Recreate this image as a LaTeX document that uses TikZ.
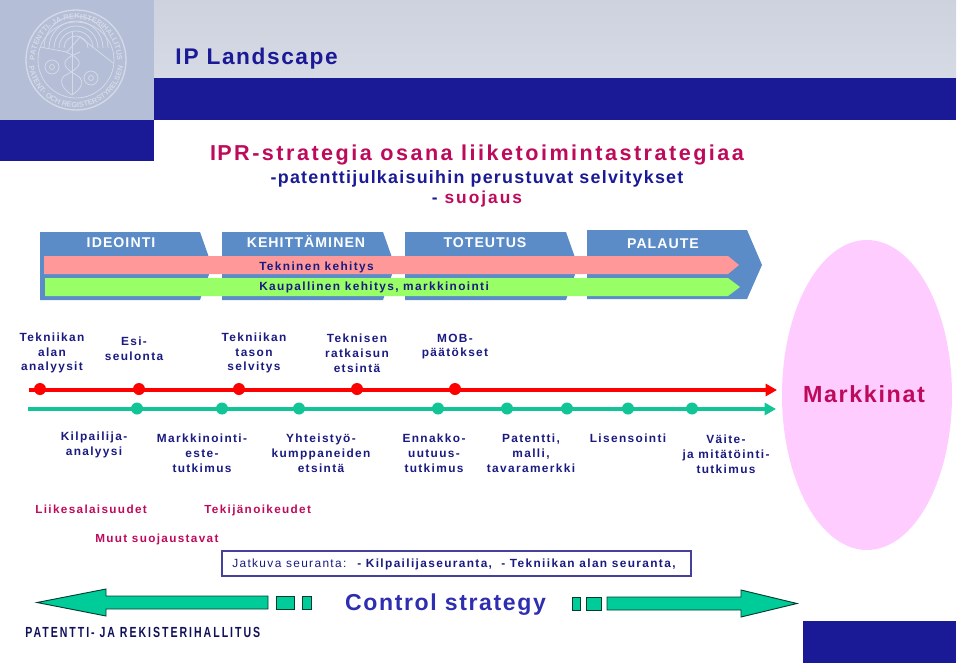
\documentclass[tikz,border=0pt]{standalone}
\usepackage{fontspec}
\usetikzlibrary{arrows.meta,decorations.text}
\setmainfont{Liberation Sans}
\newfontfamily\spaced[LetterSpace=7]{Liberation Sans}
\newfontfamily\spacedw[LetterSpace=11.5]{Liberation Sans}
\newfontfamily\narrowb[LetterSpace=13.5,FakeStretch=0.72]{Liberation Sans Bold}
\definecolor{navy}{HTML}{1A1A96}
\definecolor{labelc}{HTML}{1A1A80}
\definecolor{crim}{HTML}{BE0A5A}
\definecolor{tab}{HTML}{5B8CC8}
\definecolor{pinkbar}{HTML}{FF9999}
\definecolor{greenbar}{HTML}{99FF66}
\definecolor{tline}{HTML}{12C596}
\definecolor{tfill}{HTML}{00CC99}
\definecolor{sealc}{HTML}{D5DAE8}
\definecolor{mk}{HTML}{FFCCFF}
\definecolor{headtop}{HTML}{CDD2DE}
\definecolor{headmid}{HTML}{C9CFDB}
\definecolor{headbot}{HTML}{D6DAE5}
\definecolor{sealbg}{HTML}{B4BED6}
\definecolor{csblue}{HTML}{2E2EB0}
\definecolor{boxc}{HTML}{45409A}
\tikzset{x=0.75pt,y=-0.75pt,
  tabshape/.style={fill=tab,draw=none},
  tablabel/.style={text=white,inner sep=0,anchor=base,font=\fontsize{10.6}{12}\spaced\bfseries},
  barlabel/.style={text=labelc,inner sep=0,anchor=base west,font=\fontsize{8.9}{11}\spacedw\bfseries},
  lab/.style={text=labelc,inner sep=0,align=center,font=\fontsize{8.9}{11.1}\spacedw\bfseries},
  crimlab/.style={text=crim,inner sep=0,anchor=base west,font=\fontsize{8.8}{11}\spacedw\bfseries},
  reddot/.style={circle,fill=red,inner sep=0,minimum size=9pt},
  greendot/.style={circle,fill=tline,inner sep=0,minimum size=9pt},
  redline/.style={draw=red,line width=2.6pt,-{Triangle[length=8.5pt,width=9pt]}},
  greenline/.style={draw=tline,line width=2.6pt,-{Triangle[length=8.5pt,width=9pt]}},
  blockarrow/.style={fill=tfill,draw=black!70!tfill,line width=0.7pt},
  seal/.style={draw=sealc,line width=0.6pt}
}
\begin{document}
\begin{tikzpicture}
\useasboundingbox (0,0) rectangle (960,664);
% header
\shade[top color=headtop,middle color=headmid,bottom color=headbot] (154,0) rectangle (956,78);
\fill[sealbg] (0,0) rectangle (154,120);
\fill[navy] (154,78) rectangle (956,120);
\fill[navy] (0,120) rectangle (154,161);
\fill[navy] (803,621) rectangle (956,663);
% seal
\draw[seal,line width=1pt] (76,60) circle (50);
\draw[seal] (76,60) circle (38);
\path[postaction={decorate,decoration={text along path,text align=center,
  text={|\fontsize{5.6}{6}\bfseries\color{sealc}|PATENTTI- JA REKISTERIHALLITUS}}}]
  (76,60) ++(170:41) arc[start angle=170,end angle=370,radius=41];
\path[postaction={decorate,decoration={text along path,text align=center,
  text={|\fontsize{5.6}{6}\bfseries\color{sealc}|PATENT- OCH REGISTERSTYRELSEN}}}]
  (76,60) ++(170:47.5) arc[start angle=170,end angle=10,radius=47.5];
\foreach \r in {12,17,22,27,32}{\draw[seal] (76-\r,48) arc[start angle=180,end angle=360,radius=\r];}
\draw[seal] (40,47) -- (67,52) -- (80,37) -- (113,63);
\draw[seal] (72,32) -- (72,95);
\draw[seal] (66,52) .. controls (84,60) and (84,66) .. (64,76) .. controls (58,82) and (64,90) .. (72,95);
\draw[seal] (80,52) .. controls (60,60) and (60,66) .. (78,76) .. controls (86,82) and (80,90) .. (72,95);
\foreach \p in {(52,67),(91,78)}{\draw[seal] \p circle (7); \draw[seal] \p circle (2.5);}
% titles
\node[anchor=west,inner sep=0,text=navy,font=\fontsize{17}{18}\spaced\bfseries] (t1) at (175,59) {I\kern1.5pt P Landscape};
\node[inner sep=0,text=crim,font=\fontsize{16.2}{18}\spacedw\bfseries] (t2) at (477,155) {I\kern1pt PR-strategia osana liiketoimintastrategiaa};
\node[inner sep=0,text=navy,font=\fontsize{13.4}{15}\spaced\bfseries] (t3) at (477,179) {-patenttijulkaisuihin perustuvat selvitykset};
\node[inner sep=0,font=\fontsize{13}{15}\spacedw\bfseries] (t4) at (477,199) {\textcolor{navy}{- }\textcolor{crim}{suojaus}};
% phase tabs
\fill[tabshape] (40,232) -- (200,232) -- (212,266) -- (200,300) -- (40,300) -- cycle;
\fill[tabshape] (222,232) -- (383,232) -- (395,266) -- (383,300) -- (222,300) -- cycle;
\fill[tabshape] (405,232) -- (566,232) -- (578,266) -- (566,300) -- (405,300) -- cycle;
\fill[tabshape] (587,230) -- (747,230) -- (762,265) -- (747,299) -- (587,299) -- cycle;
\node[tablabel] (p1) at (121,247) {I\kern1pt DEOI\kern1pt NTI};
\node[tablabel] (p2) at (306,247) {KEHI\kern1pt TTÄMI\kern1pt NEN};
\node[tablabel] (p3) at (485,247) {TOTEUTUS};
\node[tablabel] (p4) at (663,248) {PALAUTE};
% bars
\fill[pinkbar] (44,256) -- (728,256) -- (739,265) -- (728,274) -- (44,274) -- cycle;
\fill[greenbar] (45,278) -- (728,278) -- (740,287) -- (728,296) -- (45,296) -- cycle;
\node[barlabel] (b1) at (259,270) {Tekninen kehitys};
\node[barlabel] (b2) at (259,290) {Kaupallinen kehitys, markkinointi};
% market ellipse
\fill[mk] (867,395) ellipse (85 and 155);
\node[inner sep=0,text=crim,font=\fontsize{17.5}{20}\spaced\bfseries] (mkt) at (864,394) {Markkinat};
% upper labels
\node[lab] (u1) at (52,353) {Tekniikan\\alan\\analyysit};
\node[lab] (u2) at (134,349) {Esi-\\seulonta};
\node[lab] (u3) at (254,353) {Tekniikan\\tason\\selvitys};
\node[lab] (u4) at (357,353) {Teknisen\\ratkaisun\\etsintä};
\node[lab] (u5) at (455,346.5) {MOB-\\päätökset};
% timelines
\coordinate (r0) at (29,390);
\coordinate (r1) at (777,390);
\coordinate (g0) at (28,409);
\coordinate (g1) at (776,409);
\draw[redline] (r0) -- (r1);
\draw[greenline] (g0) -- (g1);
\foreach \n/\x in {a/40,b/139,c/239,d/357,e/455}{\node[reddot] (rd\n) at (\x,389) {};}
\foreach \n/\x in {a/137,b/222,c/299,d/438,e/507,f/567,g/628,h/692}{\node[greendot] (gd\n) at (\x,408.5) {};}
% lower labels
\node[lab] (l1) at (94,445) {Kilpailija-\\analyysi};
\node[lab] (l2) at (202,453) {Markkinointi-\\este-\\tutkimus};
\node[lab] (l3) at (321,453) {Yhteistyö-\\kumppaneiden\\etsintä};
\node[lab] (l4) at (434,453) {Ennakko-\\uutuus-\\tutkimus};
\node[lab] (l5) at (531,453) {Patentti,\\malli,\\tavaramerkki};
\node[lab] (l6) at (628,438.5) {Lisensointi};
\node[lab] (l7) at (726,454.5) {Väite-\\ja mitätöinti-\\tutkimus};
\node[crimlab] (s1) at (35,513) {Liikesalaisuudet};
\node[crimlab] (s2) at (204,513) {Tekijänoikeudet};
\node[crimlab] (s3) at (95,542.5) {Muut suojaustavat};
% follow-up box
\draw[draw=boxc,line width=0.9pt] (222,551) rectangle (691,576);
\node[lab,anchor=base west,font=\fontsize{8.9}{11}\spacedw] (j) at (232,567) {Jatkuva seuranta: \ \textbf{- Kilpailijaseuranta, \ - Tekniikan alan seuranta,}};
% control strategy
\node[inner sep=0,text=csblue,font=\fontsize{17.3}{20}\spaced\bfseries] (cs) at (445.5,605) {Control strategy};
\draw[blockarrow] (268,596) -- (106,596) -- (106,589) -- (37,602.5) -- (106,616) -- (106,609) -- (268,609) -- cycle;
\draw[blockarrow] (276,596) rectangle (294,609);
\draw[blockarrow] (302,596) rectangle (311,609);
\draw[blockarrow] (607,597) -- (741,597) -- (741,590) -- (797,603.5) -- (741,617) -- (741,610) -- (607,610) -- cycle;
\draw[blockarrow] (586,597) rectangle (601,610);
\draw[blockarrow] (572,597) rectangle (580,610);
\node[anchor=west,inner sep=0,text=navy!60!black,font=\fontsize{11}{12}\narrowb] (ph) at (25,632) {PATENTTI- JA REKISTERIHALLITUS};
\end{tikzpicture}
\end{document}
